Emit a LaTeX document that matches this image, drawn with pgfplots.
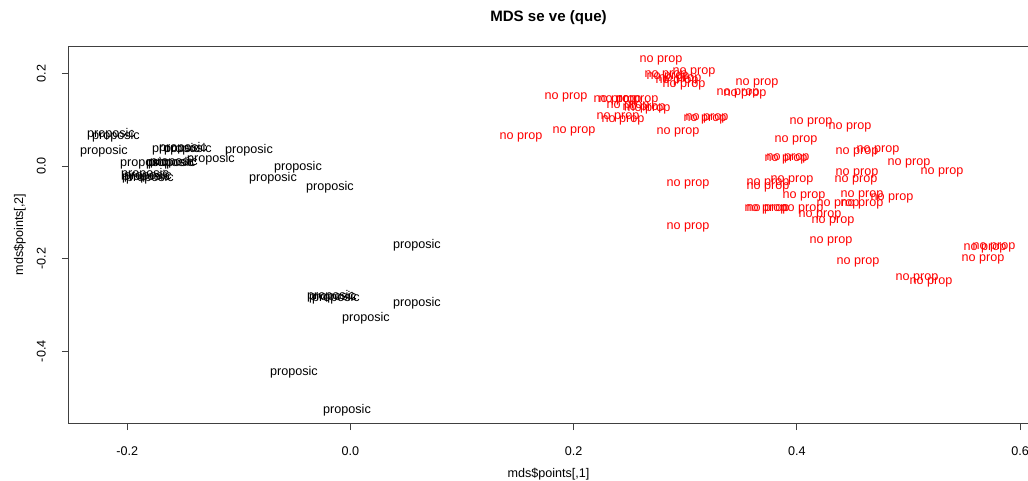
\documentclass[border=0pt]{standalone}
\usepackage{fontspec}
\setmainfont{Liberation Sans}
\usepackage{pgfplots}
\pgfplotsset{compat=1.18}
\begin{document}
\begin{tikzpicture}
\begin{axis}[
  name=ax,
  scale only axis,
  width=719.25pt, height=282.75pt,
  xmin=-0.2522, xmax=0.6071,
  ymin=-0.5547, ymax=0.2590,
  axis line style={black!75, line width=0.75pt},
  tick style={black!75, line width=0.75pt},
  tick align=outside, major tick length=5.25pt,
  xtick pos=left, ytick pos=left,
  xtick={-0.2,0,0.2,0.4,0.6},
  ytick={-0.4,-0.2,0,0.2},
  xticklabels={-0.2,0.0,0.2,0.4,0.6},
  yticklabels={-0.4,-0.2,0.0,0.2},
  /pgf/number format/assume math mode=true,
  ticklabel style={font=\fontsize{9.45}{11}\selectfont, text=black},
  xticklabel style={anchor=north, inner sep=0pt},
  xticklabel shift=12pt,
  yticklabel style={rotate=90, anchor=south, inner sep=0pt},
  yticklabel shift=12pt,
  xlabel={mds\$points[,1]},
  ylabel={mds\$points[,2]},
  every axis x label/.style={at={(axis description cs:0.5,0)}, anchor=center, yshift=-38.25pt, font=\fontsize{9.45}{11}\selectfont},
  every axis y label/.style={at={(axis description cs:0,0.5)}, anchor=center, xshift=-37pt, rotate=90, font=\fontsize{9.45}{11}\selectfont},
  title={MDS se ve (que)},
  every axis title/.style={at={(axis description cs:0.5,1)}, anchor=center, yshift=21pt, font=\fontsize{11.3}{13}\selectfont\bfseries},
  clip=false,
]
\addplot[only marks, color=black, mark=text, text mark={proposic}, text mark as node=true,
  text mark style={font=\fontsize{9.45}{11}\selectfont, inner sep=0pt, text=black}]
  coordinates {
(-0.2146,0.0691) (-0.2101,0.0648) (-0.2209,0.0324) (-0.1564,0.0367) (-0.1501,0.0389)
(-0.1456,0.0367) (-0.0909,0.0345) (-0.1850,0.0065) (-0.1618,0.0065) (-0.1600,0.0065)
(-0.1582,0.0086) (-0.1250,0.0151) (-0.0470,-0.0022) (-0.0694,-0.0259) (-0.0184,-0.0453)
(-0.1841,-0.0173) (-0.1815,-0.0216) (-0.1797,-0.0259) (-0.1832,-0.0237)
(0.0596,-0.1705) (-0.0175,-0.2806) (-0.0130,-0.2849) (-0.0157,-0.2828)
(0.0596,-0.2957) (0.0139,-0.3281) (-0.0506,-0.4446) (-0.0031,-0.5267)
  };
\addplot[only marks, color=red, mark=text, text mark={no prop}, text mark as node=true,
  text mark style={font=\fontsize{9.45}{11}\selectfont, inner sep=0pt, text=red}]
  coordinates {
(0.2782,0.2288) (0.2827,0.1964) (0.2845,0.1921) (0.2926,0.1835) (0.2953,0.1878)
(0.2989,0.1748) (0.3078,0.2029) (0.3643,0.1792) (0.3472,0.1576) (0.3535,0.1554)
(0.1931,0.1489) (0.2370,0.1425) (0.2415,0.1425) (0.2567,0.1425) (0.2487,0.1295)
(0.2675,0.1230) (0.2630,0.1252) (0.2397,0.1058) (0.2442,0.0993) (0.3177,0.1014)
(0.3195,0.1036) (0.2003,0.0755) (0.2935,0.0734) (0.1528,0.0626) (0.4126,0.0950)
(0.4476,0.0842) (0.3992,0.0561) (0.3902,0.0151) (0.3920,0.0173) (0.4539,0.0302)
(0.4727,0.0345) (0.5005,0.0065) (0.5300,-0.0130) (0.4539,-0.0151) (0.4530,-0.0302)
(0.3024,-0.0389) (0.3741,-0.0367) (0.3741,-0.0453) (0.3956,-0.0302) (0.4064,-0.0648)
(0.4583,-0.0626) (0.4368,-0.0820) (0.4583,-0.0820) (0.4852,-0.0691) (0.3723,-0.0928)
(0.3741,-0.0928) (0.4046,-0.0928) (0.4207,-0.1058) (0.4324,-0.1187) (0.3024,-0.1317)
(0.4306,-0.1619) (0.4548,-0.2072) (0.5077,-0.2417) (0.5202,-0.2504) (0.5686,-0.1770)
(0.5766,-0.1748) (0.5668,-0.2007)
  };
\end{axis}
\pgfresetboundingbox
\path ([xshift=-51.75pt,yshift=-42.75pt]ax.south west) rectangle ([yshift=34.5pt]ax.north east);
\end{tikzpicture}
\end{document}
